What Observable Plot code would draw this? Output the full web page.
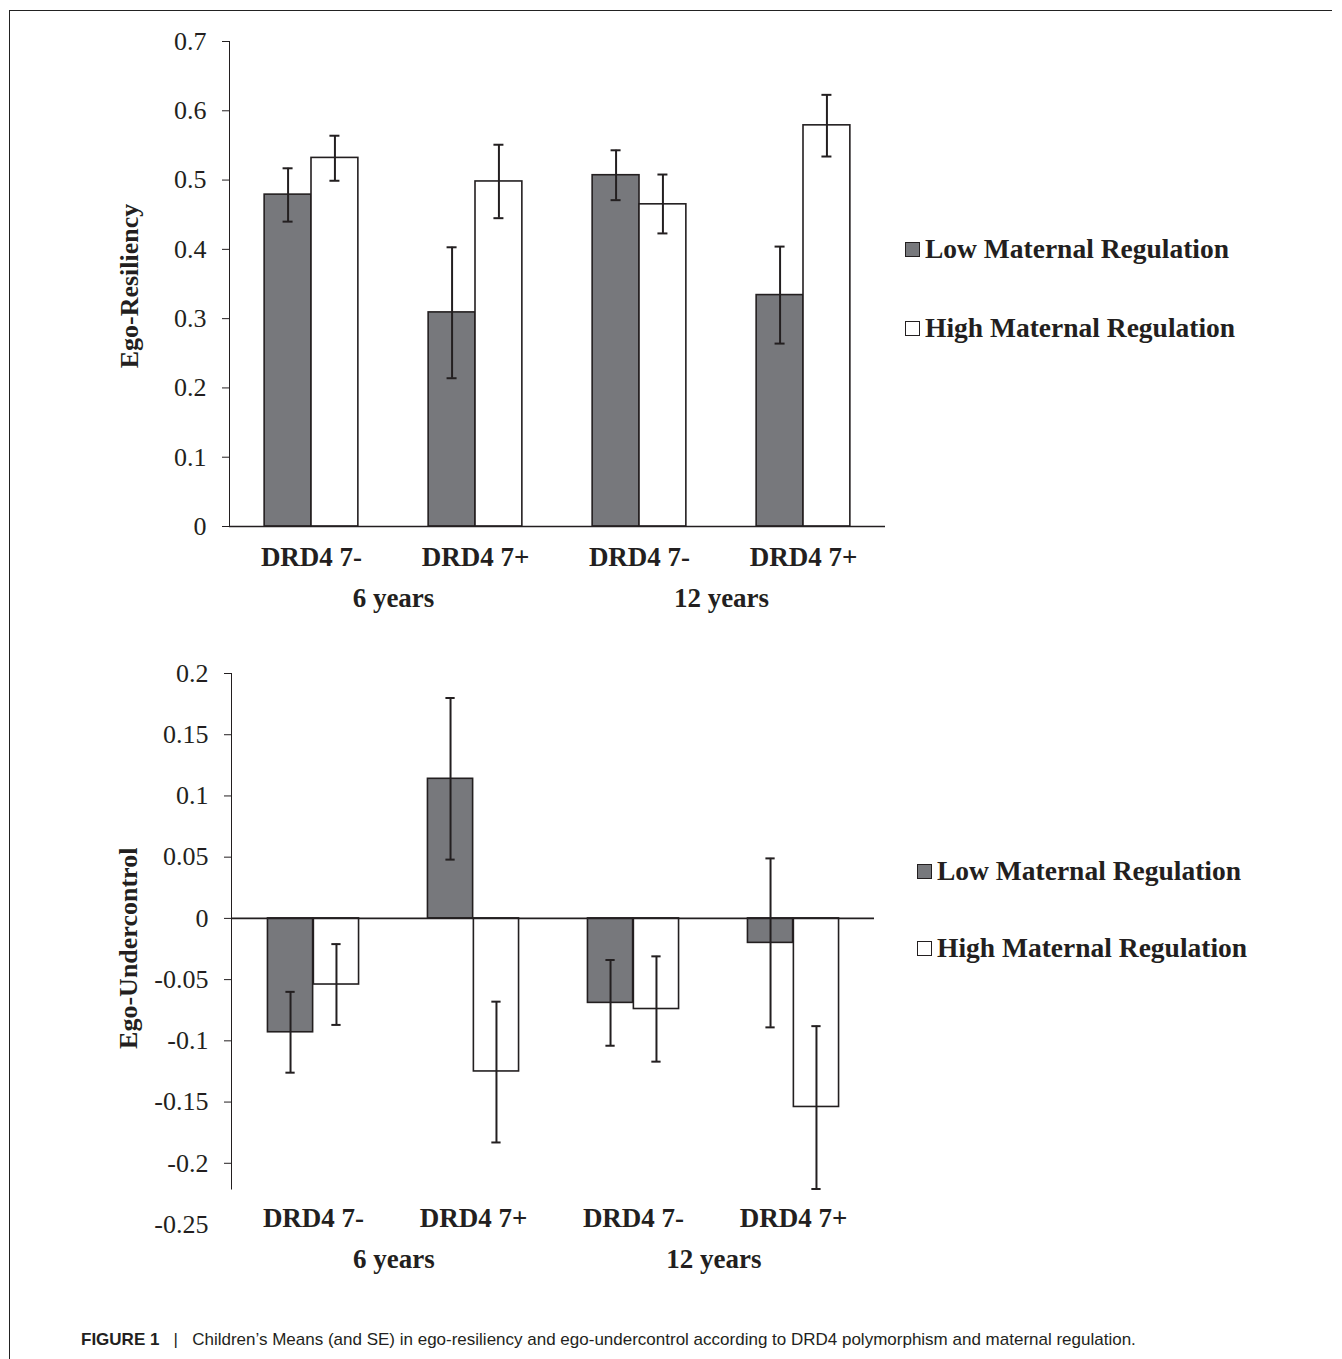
<!DOCTYPE html>
<html>
<head>
<meta charset="utf-8">
<script src="https://cdn.jsdelivr.net/npm/d3@7"></script>
<script src="https://cdn.jsdelivr.net/npm/@observablehq/plot@0.6"></script>
<style>
html, body { margin: 0; padding: 0; background: #fff; }
#page { position: relative; width: 1342px; height: 1359px; overflow: hidden; background: #fff; }
.frame-top { position: absolute; left: 9px; top: 10px; width: 1323px; height: 0; border-top: 1.5px solid #222; }
.frame-left { position: absolute; left: 9px; top: 10px; width: 0; height: 1349px; border-left: 1.5px solid #222; }
.chart { position: absolute; left: 0; }
.legend { position: absolute; font-family: "Liberation Serif", "Times New Roman", serif; font-weight: bold; font-size: 27.5px; color: #231f20; }
.legend .item { display: flex; align-items: center; white-space: nowrap; height: 30px; position: absolute; left: 0; }
.legend .sw { width: 15px; height: 15px; border: 1.5px solid #231f20; box-sizing: border-box; margin-right: 5px; flex: none; }
.caption { position: absolute; left: 81px; top: 1330px; font-family: "Liberation Sans", Arial, sans-serif; font-size: 17px; line-height: 20px; color: #231f20; white-space: nowrap; }
.caption b { font-weight: bold; }
</style>
</head>
<body>
<div id="page">
  <div class="frame-top"></div>
  <div class="frame-left"></div>
  <div id="top" class="chart" style="top:0px"></div>
  <div id="bottom" class="chart" style="top:640px"></div>
  <div class="legend" id="legTop" style="left:905px; top:0px"></div>
  <div class="legend" id="legBottom" style="left:917px; top:0px"></div>
  <div class="caption"><b>FIGURE 1</b>&nbsp;&nbsp;&nbsp;|&nbsp;&nbsp;&nbsp;Children’s Means (and SE) in ego-resiliency and ego-undercontrol according to DRD4 polymorphism and maternal regulation.</div>
</div>
<script>
// ---------- data ----------
const categories = ["DRD4 7-", "DRD4 7+", "DRD4 7-", "DRD4 7+"];
const ages = ["6 years", "6 years", "12 years", "12 years"];
const seriesNames = ["Low Maternal Regulation", "High Maternal Regulation"];
const seriesFill = ["#77787c", "#ffffff"];

// Ego-Resiliency (top)
const resLowMean  = [0.479, 0.309, 0.507, 0.334];
const resLowLo    = [0.440, 0.214, 0.471, 0.264];
const resLowHi    = [0.517, 0.403, 0.543, 0.404];
const resHighMean = [0.532, 0.498, 0.465, 0.579];
const resHighLo   = [0.499, 0.445, 0.423, 0.534];
const resHighHi   = [0.564, 0.551, 0.508, 0.623];
const resTicks = [0, 0.1, 0.2, 0.3, 0.4, 0.5, 0.6, 0.7];

// Ego-Undercontrol (bottom)
const ucLowMean  = [-0.093, 0.114, -0.069, -0.020];
const ucLowLo    = [-0.126, 0.048, -0.104, -0.089];
const ucLowHi    = [-0.060, 0.180, -0.034, 0.049];
const ucHighMean = [-0.054, -0.125, -0.074, -0.154];
const ucHighLo   = [-0.087, -0.183, -0.117, -0.221];
const ucHighHi   = [-0.021, -0.068, -0.031, -0.088];
const ucTicks = [0.2, 0.15, 0.1, 0.05, 0, -0.05, -0.1, -0.15, -0.2];
const ucExtraTicks = [-0.25];

// ---------- drawing ----------
const INK = "#231f20";
const SERIF = '"Liberation Serif", "Times New Roman", serif';

function rowsFor(means, los, his, s) {
  return categories.map((g, i) => ({
    key: ages[i] + "|" + g, genotype: g, age: ages[i], series: seriesNames[s],
    mean: means[i], lo: los[i], hi: his[i], first: i === 0 || ages[i] !== ages[i - 1]
  }));
}

function drawChart(o) {
  const keys = categories.map((g, i) => ages[i] + "|" + g);
  const lowRows = rowsFor(o.lowMean, o.lowLo, o.lowHi, 0);
  const highRows = rowsFor(o.highMean, o.highLo, o.highHi, 1);
  const step = (o.width - o.marginLeft - o.marginRight) / keys.length;
  const bar = step / 3.5;         // Excel gap width 150%
  const gap = step - 2 * bar;
  const cap = 5;
  const barInsets = s => ({ insetLeft: gap / 2 + s * bar, insetRight: gap / 2 + (1 - s) * bar });
  const capInsets = s => {
    const l = gap / 2 + s * bar + bar / 2 - cap;
    return { insetLeft: l, insetRight: step - l - 2 * cap };
  };
  const marks = [];
  [lowRows, highRows].forEach((rows, s) => {
    marks.push(Plot.barY(rows, { x: "key", y: "mean", fill: seriesFill[s], stroke: INK, strokeWidth: 1.6, ...barInsets(s) }));
  });
  marks.push(Plot.ruleY([0], { stroke: INK, strokeWidth: 1.6 }));
  [lowRows, highRows].forEach((rows, s) => {
    const dx = (s === 0 ? -1 : 1) * bar / 2;
    marks.push(Plot.ruleX(rows, { x: "key", y1: "lo", y2: "hi", dx, stroke: INK, strokeWidth: 2 }));
    marks.push(Plot.tickY(rows, { x: "key", y: "lo", stroke: INK, strokeWidth: 2, ...capInsets(s) }));
    marks.push(Plot.tickY(rows, { x: "key", y: "hi", stroke: INK, strokeWidth: 2, ...capInsets(s) }));
  });
  // category labels
  marks.push(Plot.text(lowRows, { x: "key", text: "genotype", frameAnchor: "bottom", dy: o.catDy,
    fontWeight: "bold", fontSize: 27, fontFamily: SERIF, fill: INK }));
  // age group labels (centred under each pair of categories)
  marks.push(Plot.text(lowRows.filter(d => d.first), { x: "key", text: "age", frameAnchor: "bottom", dx: step / 2, dy: o.ageDy,
    fontWeight: "bold", fontSize: 27, fontFamily: SERIF, fill: INK }));
  // extra tick labels without tick marks
  if (o.extraTicks) {
    marks.push(Plot.text(o.extraTicks, { y: d => d, text: d => String(d), frameAnchor: "left", dx: -23, textAnchor: "end",
      fontSize: 26, fontFamily: SERIF, fill: INK }));
  }
  // y axis title
  marks.push(Plot.text([o.yLabel], { text: d => d, frameAnchor: "left", textAnchor: "middle", dx: o.titleDx, dy: o.titleDy, rotate: -90,
    fontWeight: "bold", fontSize: 26, fontFamily: SERIF, fill: INK }));

  return Plot.plot({
    width: o.width, height: o.height,
    marginLeft: o.marginLeft, marginRight: o.marginRight, marginTop: o.marginTop, marginBottom: o.marginBottom,
    style: { fontFamily: SERIF, fontSize: "26px", color: INK, background: "transparent", overflow: "visible" },
    x: { domain: keys, padding: 0, axis: null },
    y: { domain: o.yDomain, ticks: o.yTicks, tickFormat: d => String(d), tickSize: 7, tickPadding: 16, line: true, label: null },
    marks
  });
}

document.getElementById("top").appendChild(drawChart({
  lowMean: resLowMean, lowLo: resLowLo, lowHi: resLowHi,
  highMean: resHighMean, highLo: resHighLo, highHi: resHighHi,
  yDomain: [0, d3.max(resTicks)], yTicks: resTicks, yLabel: "Ego-Resiliency",
  width: 1342, height: 640, marginLeft: 229, marginRight: 457, marginTop: 41, marginBottom: 114,
  catDy: 39, ageDy: 80, titleDx: -100, titleDy: 2
}));

const ucMin = d3.min([...ucLowLo, ...ucHighLo]);
document.getElementById("bottom").appendChild(drawChart({
  lowMean: ucLowMean, lowLo: ucLowLo, lowHi: ucLowHi,
  highMean: ucHighMean, highLo: ucHighLo, highHi: ucHighHi,
  yDomain: [ucMin, d3.max(ucTicks)], yTicks: ucTicks, extraTicks: ucExtraTicks, yLabel: "Ego-Undercontrol",
  width: 1342, height: 660, marginLeft: 231, marginRight: 468, marginTop: 33, marginBottom: 111.5,
  catDy: 38, ageDy: 78.5, titleDx: -103, titleDy: 17
}));

// ---------- legends ----------
function legend(el, tops) {
  seriesNames.forEach((name, s) => {
    const item = document.createElement("div");
    item.className = "item";
    item.style.top = (tops[s] - 15) + "px";
    const sw = document.createElement("span");
    sw.className = "sw";
    sw.style.background = seriesFill[s];
    const t = document.createElement("span");
    t.textContent = name;
    item.appendChild(sw); item.appendChild(t);
    el.appendChild(item);
  });
}
legend(document.getElementById("legTop"), [249, 328]);
legend(document.getElementById("legBottom"), [871, 948]);
</script>
</body>
</html>
